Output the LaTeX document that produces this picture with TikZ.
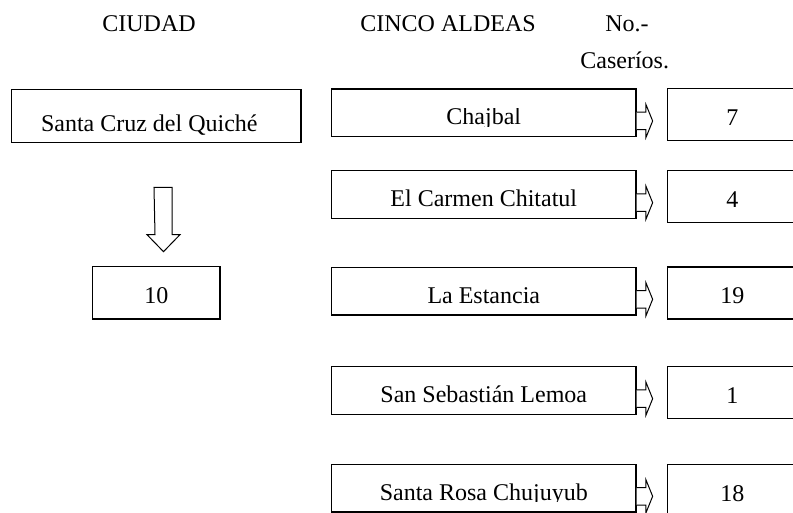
\documentclass[tikz,border=0pt]{standalone}
\usepackage{fontspec}
\setmainfont{Liberation Serif}
\usepackage{trimclip}
\usetikzlibrary{calc}
\newcommand\cutdesc[1]{\clipbox{0pt 1.9pt 0pt 0pt}{#1}}
\begin{document}
\begin{tikzpicture}[x=0.5pt,y=-0.5pt,
  box/.style={draw=black,line width=0.65pt,inner sep=0pt,font=\fontsize{12}{14}\selectfont,text depth=0pt},
  midbox/.style={box,minimum width=152.2pt,minimum height=23.8pt,text height=12pt},
  numbox/.style={box,minimum width=64.7pt,minimum height=26pt,text height=11pt},
  blockarrow/.style={draw=black,line width=0.5pt,fill=white,line join=miter},
  head/.style={font=\fontsize{12}{14}\selectfont,inner sep=0pt,anchor=base west}]
\useasboundingbox (0,0) rectangle (793,513);
% headers
\node[head] (hciudad) at (102,31.7) {CIUDAD};
\node[head] (haldeas) at (360,31.7) {CINCO ALDEAS};
\node[head] (hno) at (605,31.7) {No.-};
\node[head] (hcas) at (580,69) {Caseríos.};
% left column
\node[box,minimum width=144.7pt,minimum height=26.7pt,text height=15.5pt] (sc) at (156.3,116) {Santa Cruz del Quiché\hspace*{7pt}};
\node[box,minimum width=63.7pt,minimum height=26.2pt,text height=11.2pt] (ten) at (156.3,292.8) {10};
\draw[blockarrow] ($(sc.south)+(-2.3,44)$) -- ++(18,0) -- ++(0,47.3) -- ++(8,0) -- ++(-16.5,17) -- ++(-16.5,-17) -- ++(8,0) -- cycle;
% middle column
\node[midbox] (m1) at (483.8,112.85) {\cutdesc{Chajbal}};
\node[midbox] (m2) at (483.8,194.55) {El Carmen Chitatul};
\node[midbox] (m3) at (483.8,291.15) {La Estancia};
\node[midbox] (m4) at (483.8,390.55) {San Sebastián Lemoa};
\node[midbox] (m5) at (483.8,488.15) {\cutdesc{Santa Rosa Chujuyub}};
% right column
\node[numbox] (n1) at (732.3,114.3) {7};
\node[numbox] (n2) at (732.3,196.7) {4};
\node[numbox] (n3) at (732.3,293) {19};
\node[numbox] (n4) at (732.3,392.7) {1};
\node[numbox] (n5) at (732.3,490.3) {18};
% arrows
\foreach \i in {1,...,5}{
  \draw[blockarrow] ($(m\i.east)+(0,-0.6)$) -- ++(9.3,0) -- ++(0,-7.75) -- ++(6.7,16.5) -- ++(-6.7,16.5) -- ++(0,-7.75) -- ++(-9.3,0);
}
\end{tikzpicture}
\end{document}
